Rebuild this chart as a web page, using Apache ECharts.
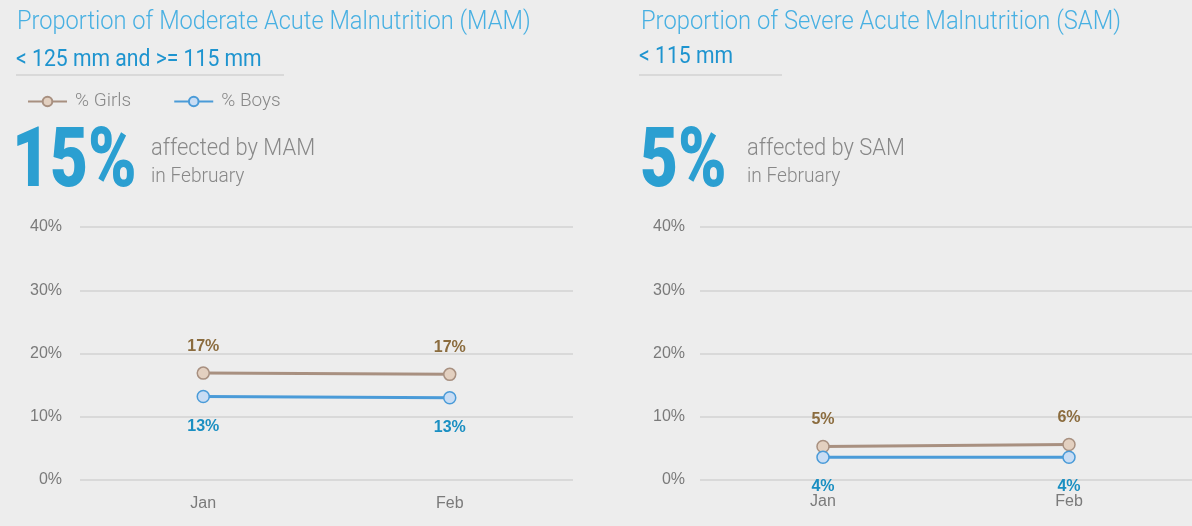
<!DOCTYPE html>
<html>
<head>
    <meta charset="utf-8">
    <title>MAM / SAM</title>
    <script src="https://cdn.jsdelivr.net/npm/echarts@6/dist/echarts.min.js"></script>
    <style>
        *{margin:0;padding:0;}
        html,body{width:100%;height:100%;overflow:hidden;background:#ededed;}
        .container{width:1192px;height:526px;}
    </style>
</head>
<body>
<div class="container" id="main"></div>
<script>
    // data
    let months = ['Jan', 'Feb'];
    let mamGirls = [16.9, 16.7];
    let mamBoys = [13.2, 13.0];
    let samGirls = [5.3, 5.6];
    let samBoys = [3.6, 3.6];
    let yTicks = [0, 10, 20, 30, 40];

    let chart = echarts.init(document.getElementById('main'));

    const gray = '#888888';
    const girlsLine = '#a89080';
    const boysLine = '#4a9bd8';

    function txt(x, y, text, font, fill, sx) {
        return {
            type: 'text', x: x, y: y, scaleX: sx || 1,
            style: {text: text, font: font, fill: fill, textVerticalAlign: 'middle', verticalAlign: 'middle'}
        };
    }

    function yAxis(idx) {
        return {
            type: 'value', gridIndex: idx, min: yTicks[0], max: yTicks[yTicks.length - 1], interval: 10,
            axisLine: {show: false}, axisTick: {show: false},
            axisLabel: {formatter: '{value}%', color: '#7a7a7a', fontSize: 16, fontFamily: 'Liberation Sans', margin: idx ? 15 : 18},
            splitLine: {lineStyle: {color: '#d9d9d9', width: 2}}
        };
    }

    function xAxis(idx) {
        return {
            type: 'category', gridIndex: idx, data: months,
            axisLine: {show: false}, axisTick: {show: false},
            axisLabel: {color: '#7a7a7a', fontSize: 16, fontFamily: 'Liberation Sans', margin: idx ? 14 : 16}
        };
    }

    function line(name, idx, data, lineColor, fill, labelColor, pos, dist) {
        return {
            name: name, type: 'line', xAxisIndex: idx, yAxisIndex: idx, data: data,
            symbol: 'circle', symbolSize: 12,
            lineStyle: {color: lineColor, width: 3},
            itemStyle: {color: fill, borderColor: lineColor, borderWidth: 1.5},
            label: {
                show: true, position: pos, distance: dist,
                formatter: p => Math.round(p.value) + '%',
                color: labelColor, fontSize: 16, fontWeight: 'bold', fontFamily: 'Liberation Sans'
            },
            emphasis: {disabled: true}
        };
    }

    let option = {
        backgroundColor: '#ededed',
        animation: false,
        legend: {
            data: ['% Girls', '% Boys'],
            left: 22, top: 87, itemWidth: 39, itemHeight: 12, itemGap: 42,
            textStyle: {color: gray, fontSize: 19, fontFamily: 'Roboto', fontWeight: 300, padding: [0, 0, 0, 3]}
        },
        grid: [
            {left: 80, top: 227, width: 493, height: 253},
            {left: 700, top: 227, width: 496, height: 253}
        ],
        xAxis: [xAxis(0), xAxis(1)],
        yAxis: [yAxis(0), yAxis(1)],
        series: [
            line('% Girls', 0, mamGirls, girlsLine, '#e3d0c0', '#8b6c3e', 'top', 12),
            line('% Boys', 0, mamBoys, boysLine, '#c9ddf4', '#1a8fc2', 'bottom', 15),
            line('% Girls', 1, samGirls, girlsLine, '#e3d0c0', '#8b6c3e', 'top', 12),
            line('% Boys', 1, samBoys, boysLine, '#c9ddf4', '#1a8fc2', 'bottom', 15)
        ],
        graphic: [
            txt(17, 23, 'Proportion of Moderate Acute Malnutrition (MAM)', '300 25px Roboto', '#48b0e2', 0.945),
            txt(16, 60, '< 125 mm and >= 115 mm', '400 23px Roboto', '#1e94cf', 0.92),
            {type: 'rect', shape: {x: 16, y: 74, width: 268, height: 2}, style: {fill: '#d9d9d9'}},
            txt(12, 165, '15%', '900 84px Roboto', '#2b9fd1', 0.78),
            txt(151, 149, 'affected by MAM', '300 24px Roboto', gray, 0.913),
            txt(151, 177, 'in February', '300 21px Roboto', gray, 0.91),

            txt(641, 23, 'Proportion of Severe Acute Malnutrition (SAM)', '300 25px Roboto', '#48b0e2', 0.95),
            txt(639, 57, '< 115 mm', '400 23px Roboto', '#1e94cf', 0.92),
            {type: 'rect', shape: {x: 639, y: 74, width: 143, height: 2}, style: {fill: '#d9d9d9'}},
            txt(640, 165, '5%', '900 84px Roboto', '#2b9fd1', 0.78),
            txt(747, 149, 'affected by SAM', '300 24px Roboto', gray, 0.913),
            txt(747, 177, 'in February', '300 21px Roboto', gray, 0.91)
        ]
    };
    chart.setOption(option);
</script>
</body>
</html>
